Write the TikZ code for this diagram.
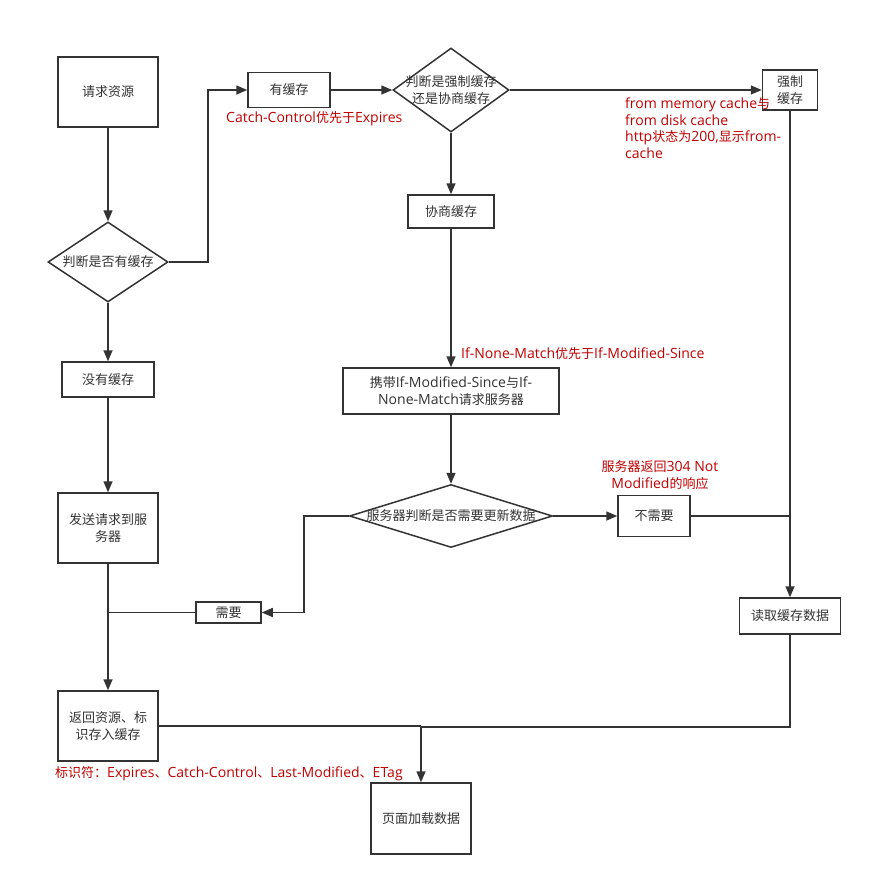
\documentclass[tikz,border=0pt]{standalone}
\usepackage{fontspec}
\setmainfont{Noto Sans CJK SC}
\newfontfamily\latfont{Open Sans}[Scale=1.08]
\newcommand{\la}[1]{{\latfont #1}}
\usetikzlibrary{arrows.meta,shapes.geometric}
\definecolor{ln}{HTML}{333333}
\definecolor{rd}{HTML}{C00000}
\begin{document}
\begin{tikzpicture}[x=1pt,y=-1pt,
  every node/.style={font=\fontsize{13}{16.5}\selectfont},
  box/.style={draw=ln, line width=1.5pt, rectangle, inner sep=0pt, text=ln, align=center},
  dia/.style={draw=ln, line width=1.5pt, diamond, inner sep=0pt},
  dtext/.style={text=ln, align=center, inner sep=0pt},
  lab/.style={text=rd, inner sep=0pt},
  conn/.style={draw=ln, line width=1.5pt},
  arr/.style={conn, -{Triangle[length=11pt,width=9pt]}}]
\useasboundingbox (0,0) rectangle (872,886);
\fill[white] (0,0) rectangle (872,886);

% nodes
\node[box, minimum width=100pt, minimum height=70pt] (req) at (108,92) {请求资源};
\node[dia, minimum width=120pt, minimum height=80pt] (d1) at (108,262) {};
\node[dtext] at (d1) {判断是否有缓存};
\node[box, minimum width=92pt, minimum height=35pt] (nocache) at (108,379.5) {没有缓存};
\node[box, minimum width=100pt, minimum height=70pt] (send) at (108,528) {发送请求到服\\务器};
\node[box, minimum width=100pt, minimum height=70pt] (ret) at (108,726) {返回资源、标\\识存入缓存};
\node[box, minimum width=82pt, minimum height=35pt] (has) at (289,90) {有缓存};
\node[dia, minimum width=116pt, minimum height=84pt] (d2) at (451,90) {};
\node[dtext] at (d2) {判断是强制缓存\\还是协商缓存};
\node[box, minimum width=55pt, minimum height=40pt] (force) at (790,90) {强制\\缓存};
\node[box, minimum width=86pt, minimum height=33pt] (neg) at (451,211.5) {协商缓存};
\node[box, minimum width=216pt, minimum height=46pt] (carry) at (451,391) {携带\la{If-Modified-Since}与\la{If-}\\\la{None-Match}请求服务器};
\node[dia, minimum width=203pt, minimum height=63pt] (d3) at (451,516) {};
\node[dtext] at (d3) {服务器判断是否需要更新数据};
\node[box, minimum width=72pt, minimum height=41pt] (noneed) at (654,516) {不需要};
\node[box, minimum width=65pt, minimum height=21pt] (need) at (228.5,612.5) {需要};
\node[box, minimum width=101pt, minimum height=36pt] (read) at (790,616) {读取缓存数据};
\node[box, minimum width=100pt, minimum height=71pt] (page) at (421,818.5) {页面加载数据};

% connectors
\draw[arr] (req) -- (d1);
\draw[arr] (d1.east) -- ++(39,0) |- (has.west);
\draw[arr] (d1) -- (nocache);
\draw[arr] (nocache) -- (send);
\draw[arr] (send) -- (ret);
\draw[conn] (need.west) -- (need.west -| send.south);
\draw[arr] (has) -- (d2);
\draw[arr] (d2) -- (force);
\draw[arr] (d2) -- (neg);
\draw[arr] (neg) -- (carry);
\draw[arr] (carry) -- (d3);
\draw[arr] (d3) -- (noneed);
\draw[arr] (d3.west) -- ++(-45,0) |- (need.east);
\draw[arr] (force) -- (read);
\draw[conn] (noneed.east) -- (noneed.east -| read.north);
\draw[arr] (read.south) -- ++(0,92) -| (page.north);
\draw[conn] (ret.east) -- (ret.east -| page.north);

% red labels
\node[lab, anchor=west] at (226,119) {\la{Catch-Control}优先于\la{Expires}};
\node[lab, anchor=west, align=left] at (625,128) {\la{from memory cache}与\\\la{from disk cache}\\\la{http}状态为\la{200,}显示\la{from-}\\\la{cache}};
\node[lab, anchor=west] at (461,354) {\la{If-None-Match}优先于\la{If-Modified-Since}};
\node[lab, align=center] at (660,475) {服务器返回\la{304 Not}\\\la{Modified}的响应};
\node[lab, anchor=west] at (55,774) {标识符：\la{Expires}、\la{Catch-Control}、\la{Last-Modified}、\la{ETag}};
\end{tikzpicture}
\end{document}
